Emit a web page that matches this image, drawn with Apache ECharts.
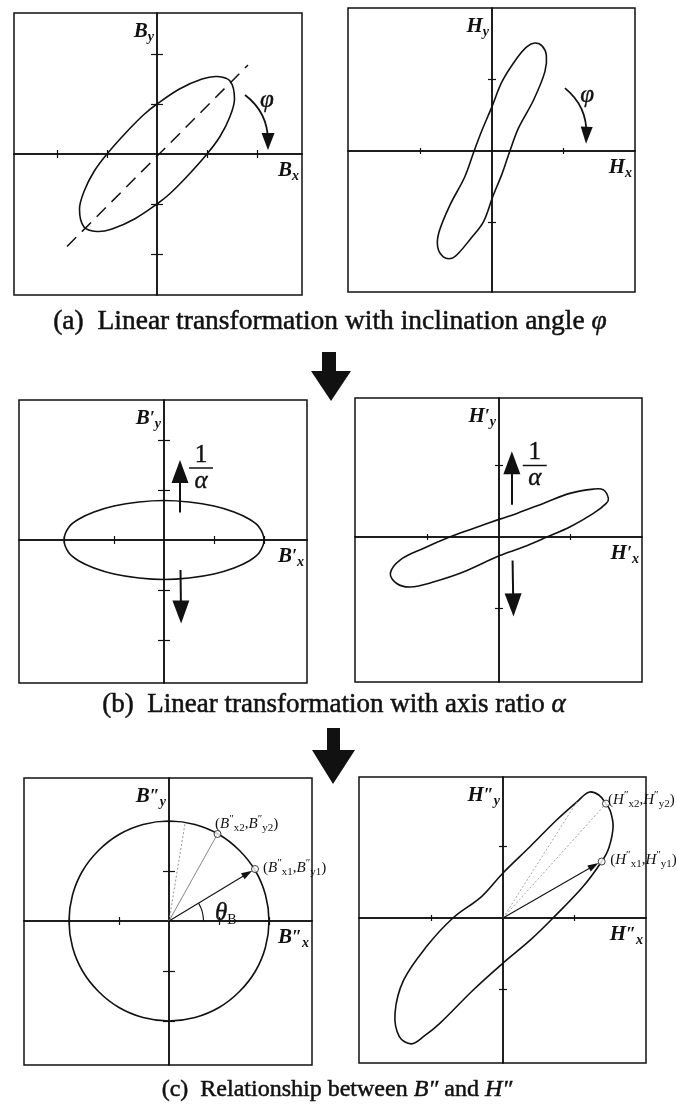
<!DOCTYPE html>
<html>
<head>
<meta charset="utf-8">
<script src="https://cdn.jsdelivr.net/npm/echarts@6/dist/echarts.min.js"></script>
<style>
  html, body { margin: 0; padding: 0; background: #fff; }
  #chart { width: 677px; height: 1104px; }
</style>
</head>
<body>
<div id="chart"></div>
<script>
// ---------------- data (axis units) ----------------
// (a) flux density locus: inclined ellipse, and its major-axis line
const ellipseA = [[1.0,0],[1.26,0.35],[1.46,0.75],[1.55,1.1],[1.46,1.46],[1.2,1.55],[0.9,1.5],[0.45,1.3],[0,1.0],[-0.25,0.8],[-0.6,0.45],
                  [-1.0,0],[-1.26,-0.35],[-1.46,-0.75],[-1.55,-1.1],[-1.46,-1.46],[-1.2,-1.55],[-0.9,-1.5],[-0.45,-1.3],[0,-1.0],[0.25,-0.8],[0.6,-0.45]];
const diagonalA = [[-1.8,-1.85],[1.82,1.78]];
// (a) field strength locus
const loopA = [[0.25,0],[0.37,0.32],[0.58,0.71],[0.74,1.11],[0.76,1.34],[0.70,1.47],[0.60,1.51],[0.49,1.46],[0.35,1.30],[0.14,0.97],[0,0.62],[-0.14,0.29],
               [-0.25,0],[-0.38,-0.36],[-0.59,-0.76],[-0.74,-1.13],[-0.76,-1.34],[-0.68,-1.48],[-0.56,-1.50],[-0.46,-1.42],[-0.31,-1.24],[-0.12,-0.99],[0.01,-0.64],[0.14,-0.32]];
// (b) after rotation: horizontal ellipse and loop
const ellipseB = [[2.0,0],[1.9,0.26],[1.7,0.42],[1.4,0.56],[1.0,0.68],[0.5,0.76],[0,0.79],[-0.5,0.76],[-1.0,0.68],[-1.4,0.56],[-1.7,0.42],[-1.9,0.26],
                  [-2.0,0],[-1.9,-0.26],[-1.7,-0.42],[-1.4,-0.56],[-1.0,-0.68],[-0.5,-0.76],[0,-0.79],[0.5,-0.76],[1.0,-0.68],[1.4,-0.56],[1.7,-0.42],[1.9,-0.26]];
const loopB = [[1.53,0.54],[1.46,0.66],[1.32,0.67],[0.99,0.61],[0.62,0.47],[0.25,0.33],[0.01,0.25],[-0.36,0.12],[-0.69,0],[-1.06,-0.16],[-1.38,-0.32],
               [-1.52,-0.51],[-1.43,-0.65],[-1.24,-0.70],[-0.92,-0.63],[-0.50,-0.49],[0.01,-0.26],[0.34,-0.14],[0.67,0],[0.99,0.14],[1.32,0.33],[1.50,0.47]];
// (c) after axis scaling: circle and loop
const circleC = [[2,0],[1.93,0.52],[1.73,1.0],[1.41,1.41],[1.0,1.73],[0.52,1.93],[0,2],[-0.52,1.93],[-1.0,1.73],[-1.41,1.41],[-1.73,1.0],[-1.93,0.52],
                 [-2,0],[-1.93,-0.52],[-1.73,-1.0],[-1.41,-1.41],[-1.0,-1.73],[-0.52,-1.93],[0,-2],[0.52,-1.93],[1.0,-1.73],[1.41,-1.41],[1.73,-1.0],[1.93,-0.52]];
const loopC = [[0.70,0],[1.12,0.44],[1.38,0.79],[1.48,0.98],[1.54,1.28],[1.50,1.50],[1.44,1.60],[1.34,1.72],[1.20,1.76],[1.03,1.62],[0.75,1.37],[0.38,1.0],
               [0,0.63],[-0.30,0.30],[-0.70,0],[-1.07,-0.40],[-1.39,-0.87],[-1.51,-1.33],[-1.45,-1.66],[-1.28,-1.76],[-1.10,-1.65],[-0.88,-1.47],[-0.42,-1.01],[0,-0.63],[0.38,-0.31]];

// sample points on the (c) loci
const pointsB = { p1: [1.72, 1.04], p2: [0.97, 1.74], p3: [0.32, 1.95] };
const pointsH = { p1: [1.38, 0.79], p2: [1.44, 1.60], p3: [1.03, 1.62] };
const headB = [1.57, 0.95];   // arrow head centre on the B'' vector
const headH = [1.27, 0.73];   // arrow head centre on the H'' vector
const thetaRadius = 0.69;

// rotation arrows (start, head centre)
const phiArrowA = [[1.76, 1.18], [2.22, 0.25]];
const phiArrowH = [[1.02, 0.88], [1.32, 0.22]];
// scaling arrows (tail, head centre)
const scaleUpB = [[0.32, 0.55], [0.32, 1.37]];
const scaleDownB = [[0.33, -0.60], [0.34, -1.44]];
const scaleUpH = [[0.18, 0.45], [0.18, 1.04]];
const scaleDownH = [[0.19, -0.33], [0.20, -0.95]];

// tick values on each kind of axis
const tickValues = { B: [-2, -1, 1, 2], H: [-1, 1] };

// captions
const captions = [
  ['(a)  Linear transformation with inclination angle ', 'φ'],
  ['(b)  Linear transformation with axis ratio ', 'α'],
  ['(c)  Relationship between ', 'B″', ' and ', 'H″']
];

// ---------------- layout ----------------
const SERIF = "'Liberation Serif', 'Times New Roman', serif";
const INK = '#111';
const UNIT = { B: 50, H: 71.5 };   // pixels per axis unit
const panels = [
  { kind: 'B', left: 14,  top: 13,  width: 288, height: 282, ox: 157, oy: 154, primes: '' },
  { kind: 'H', left: 348, top: 8,   width: 287, height: 284, ox: 492, oy: 151, primes: '' },
  { kind: 'B', left: 19,  top: 400, width: 288, height: 283, ox: 164, oy: 540, primes: '′' },
  { kind: 'H', left: 355, top: 398, width: 287, height: 284, ox: 499, oy: 537, primes: '′' },
  { kind: 'B', left: 24,  top: 778, width: 288, height: 287, ox: 169, oy: 921, primes: '″' },
  { kind: 'H', left: 359, top: 777, width: 287, height: 286, ox: 503, oy: 918, primes: '″' }
];
const captionPos = [[330, 322], [334, 705], [337, 1090]];
const captionSize = [27.5, 27, 24];

const grids = [], xAxes = [], yAxes = [], series = [];
panels.forEach(function (p, g) {
  const u = UNIT[p.kind];
  const right = p.left + p.width, bottom = p.top + p.height;
  const xr = [-(p.ox - p.left) / u, (right - p.ox) / u];
  const yr = [-(bottom - p.oy) / u, (p.oy - p.top) / u];
  const tl = p.kind === 'B' ? [4, 6] : [3, 4];
  grids.push({ left: p.left, top: p.top, width: p.width, height: p.height, show: true,
    borderColor: INK, borderWidth: 1.5, backgroundColor: 'transparent', containLabel: false, outerBoundsMode: 'none' });
  ['bottom', 'top'].forEach(function (pos) {
    xAxes.push({ type: 'value', gridIndex: g, position: pos, min: xr[0], max: xr[1],
      axisLine: { show: true, onZero: true, lineStyle: { color: INK, width: 1.5 } },
      axisTick: { show: true, customValues: tickValues[p.kind], length: tl[0], lineStyle: { color: INK, width: 1.2 } },
      axisLabel: { show: false }, splitLine: { show: false } });
  });
  ['left', 'right'].forEach(function (pos) {
    yAxes.push({ type: 'value', gridIndex: g, position: pos, min: yr[0], max: yr[1],
      axisLine: { show: true, onZero: true, lineStyle: { color: INK, width: 1.5 } },
      axisTick: { show: true, customValues: tickValues[p.kind], length: tl[1], lineStyle: { color: INK, width: 1.2 } },
      axisLabel: { show: false }, splitLine: { show: false } });
  });
});

// closed smooth locus drawn through the axes of its panel
function loopItem(params, api) {
  if (params.dataIndexInside !== 0) return null;
  const pts = [];
  for (let i = 0; i < params.dataInsideLength; i++) {
    pts.push(api.coord([api.value(0, i), api.value(1, i)]));
  }
  return { type: 'polygon', shape: { points: pts, smooth: 0.35 },
    style: { fill: 'none', stroke: INK, lineWidth: 1.6 }, silent: true };
}
function locus(g, data) {
  return { type: 'custom', coordinateSystem: 'cartesian2d', xAxisIndex: 2 * g, yAxisIndex: 2 * g,
    data: data, renderItem: loopItem, silent: true, z: 3 };
}
function arrows(g, list, opt) {
  return { type: 'lines', coordinateSystem: 'cartesian2d', xAxisIndex: 2 * g, yAxisIndex: 2 * g,
    symbol: opt.head ? ['none', 'triangle'] : ['none', 'none'],
    symbolSize: [[1, 1], opt.head || [1, 1]],
    lineStyle: { color: opt.color || INK, width: opt.width, opacity: 1, curveness: opt.curveness || 0, type: opt.type || 'solid' },
    data: list.map(function (c) { return { coords: c }; }), silent: true, z: opt.z || 4 };
}

series.push(locus(0, ellipseA), locus(1, loopA), locus(2, ellipseB), locus(3, loopB), locus(4, circleC), locus(5, loopC));
series.push({ type: 'line', xAxisIndex: 0, yAxisIndex: 0, data: diagonalA, symbol: 'none', silent: true, z: 3,
  lineStyle: { color: INK, width: 1.5, type: [13, 8] } });
series.push(arrows(0, [phiArrowA], { head: [13, 17], width: 1.8, curveness: 0.25 }));
series.push(arrows(1, [phiArrowH], { head: [12, 17], width: 1.8, curveness: 0.25 }));
series.push(arrows(2, [scaleUpB, scaleDownB], { head: [17, 23], width: 2 }));
series.push(arrows(3, [scaleUpH, scaleDownH], { head: [17, 23], width: 2 }));
// vectors to the sample points
series.push(arrows(4, [[[0, 0], pointsB.p2]], { width: 0.9, color: '#777' }));
series.push(arrows(4, [[[0, 0], pointsB.p3]], { width: 0.9, color: '#888', type: [2, 2] }));
series.push(arrows(5, [[[0, 0], pointsH.p2], [[0, 0], pointsH.p3]], { width: 0.9, color: '#999', type: [2, 2] }));
series.push(arrows(4, [[[0, 0], headB]], { head: [7, 11], width: 1.1, z: 5 }));
series.push(arrows(5, [[[0, 0], headH]], { head: [7, 11], width: 1.1, z: 5 }));
[[4, pointsB], [5, pointsH]].forEach(function (d) {
  series.push({ type: 'scatter', xAxisIndex: 2 * d[0], yAxisIndex: 2 * d[0], data: [d[1].p1, d[1].p2],
    symbol: 'circle', symbolSize: 7, silent: true, z: 6,
    itemStyle: { color: '#fff', borderColor: INK, borderWidth: 1 } });
});
// angle theta_B between the x axis and the first vector
series.push({ type: 'custom', coordinateSystem: 'cartesian2d', xAxisIndex: 8, yAxisIndex: 8, silent: true, z: 4,
  data: [[thetaRadius, pointsB.p1[0], pointsB.p1[1]]],
  renderItem: function (params, api) {
    const c = api.coord([0, 0]);
    const e = api.coord([api.value(0), 0]);
    const ang = Math.atan2(api.value(2), api.value(1));
    return { type: 'arc', shape: { cx: c[0], cy: c[1], r: e[0] - c[0], startAngle: -ang, endAngle: 0 },
      style: { fill: 'none', stroke: INK, lineWidth: 1.1 } };
  } });

const chart = echarts.init(document.getElementById('chart'));
chart.setOption({ animation: false, backgroundColor: '#fff', grid: grids, xAxis: xAxes, yAxis: yAxes, series: series });

// ---------------- text and connecting arrows ----------------
function px(g, pt) { return chart.convertToPixel({ xAxisIndex: 2 * g, yAxisIndex: 2 * g }, pt); }
function text(x, y, str, rich, align, vAlign) {
  return { type: 'text', x: x, y: y, silent: true, z: 20,
    style: { text: str, rich: rich, fill: INK, align: align, verticalAlign: vAlign, textAlign: align, textVerticalAlign: vAlign } };
}
const bi = { fontFamily: SERIF, fontStyle: 'italic', fontWeight: 'bold' };
const nameRich = {
  m: Object.assign({ fontSize: 21, lineHeight: 24 }, bi),
  p: Object.assign({ fontSize: 18, lineHeight: 24 }, bi),
  s: Object.assign({ fontSize: 14, lineHeight: 12, verticalAlign: 'bottom' }, bi)
};
// captions: slightly heavier strokes, like printed ink
function capRich(size) {
  return {
    n: { fontFamily: SERIF, fontSize: size, lineHeight: size + 4, stroke: INK, lineWidth: 0.5 },
    i: { fontFamily: SERIF, fontStyle: 'italic', fontSize: size, lineHeight: size + 4, stroke: INK, lineWidth: 0.5 }
  };
}
const symRich = {
  g: { fontFamily: SERIF, fontStyle: 'italic', fontSize: 25, lineHeight: 28, stroke: INK, lineWidth: 0.4 },
  n: { fontFamily: SERIF, fontSize: 25, lineHeight: 28, stroke: INK, lineWidth: 0.4 },
  s: { fontFamily: SERIF, fontSize: 14, lineHeight: 14, verticalAlign: 'bottom' }
};
const ptRich = {
  n: { fontFamily: SERIF, fontSize: 15, lineHeight: 20 },
  i: { fontFamily: SERIF, fontStyle: 'italic', fontSize: 15, lineHeight: 20 },
  q: { fontFamily: SERIF, fontSize: 11, lineHeight: 12, verticalAlign: 'top' },
  s: { fontFamily: SERIF, fontSize: 11, lineHeight: 10, verticalAlign: 'bottom' }
};

const gfx = [];
panels.forEach(function (p, g) {
  const letter = p.kind;
  const nm = function (sub) { return '{m|' + letter + '}' + (p.primes ? '{p|' + p.primes + '}' : '') + '{s|' + sub + '}'; };
  gfx.push(text(p.ox - 3, p.top + 19, nm('y'), nameRich, 'right', 'middle'));
  gfx.push(text(p.left + p.width - 3, p.oy + 17, nm('x'), nameRich, 'right', 'middle'));
});
// rotation angle labels
[[0, [2.2, 1.08]], [1, [1.33, 0.78]]].forEach(function (d) {
  const q = px(d[0], d[1]);
  gfx.push(text(q[0], q[1], '{g|φ}', symRich, 'center', 'middle'));
});
// 1/alpha fractions
[[2, [0.74, 1.44]], [3, [0.50, 1.00]]].forEach(function (d) {
  const q = px(d[0], d[1]);
  gfx.push(text(q[0], q[1] - 13, '{n|1}', symRich, 'center', 'middle'));
  gfx.push(text(q[0], q[1] + 13, '{g|α}', symRich, 'center', 'middle'));
  gfx.push({ type: 'line', silent: true, z: 20, shape: { x1: q[0] - 12, y1: q[1], x2: q[0] + 12, y2: q[1] },
    style: { stroke: INK, lineWidth: 1.5 } });
});
// theta_B
(function () {
  const q = px(4, [0.92, 0.16]);
  gfx.push(text(q[0], q[1], '{g|θ}{s|B}', symRich, 'left', 'middle'));
})();
// sample point labels
function ptLabel(letter, k) {
  return '{n|(}{i|' + letter + '}{q|″}{s|x' + k + '}{n|,}{i|' + letter + '}{q|″}{s|y' + k + '}{n|)}';
}
[[4, [0.92, 1.94], 'B', 2], [4, [1.88, 1.06], 'B', 1], [5, [1.47, 1.65], 'H', 2], [5, [1.50, 0.81], 'H', 1]].forEach(function (d) {
  const q = px(d[0], d[1]);
  gfx.push(text(q[0], q[1], ptLabel(d[2], d[3]), ptRich, 'left', 'middle'));
});
// captions
captions.forEach(function (c, k) {
  const s = c.map(function (part, j) { return (j % 2 ? '{i|' : '{n|') + part + '}'; }).join('');
  gfx.push(text(captionPos[k][0], captionPos[k][1], s, capRich(captionSize[k]), 'center', 'middle'));
});
// downward arrows linking the stages
[[[322, 352], [336, 352], [336, 371], [351, 371], [331, 401], [311, 371], [322, 371]],
 [[327, 728], [340, 728], [340, 750], [355, 750], [333, 784], [312, 750], [327, 750]]].forEach(function (pts) {
  gfx.push({ type: 'polygon', silent: true, z: 20, shape: { points: pts }, style: { fill: INK } });
});
chart.setOption({ graphic: { elements: gfx } });
</script>
</body>
</html>
